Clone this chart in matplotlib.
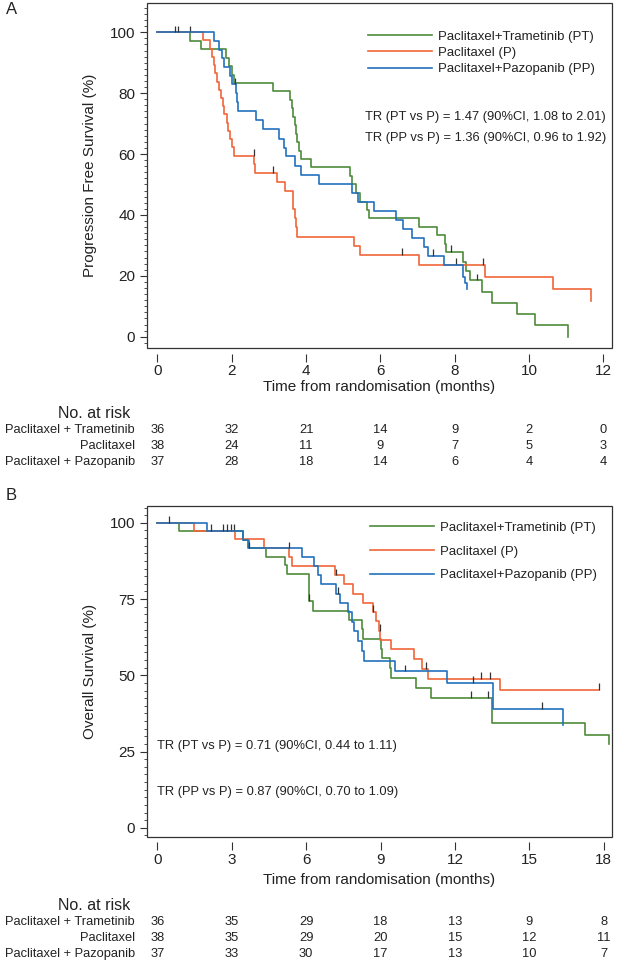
import numpy as np
import matplotlib
matplotlib.use('Agg')
import matplotlib.pyplot as plt
from matplotlib.ticker import MultipleLocator
from matplotlib.patches import Rectangle
from matplotlib.transforms import blended_transform_factory

plt.rcParams['font.family'] = ['Liberation Sans', 'DejaVu Sans']

arms = ['Paclitaxel+Trametinib (PT)', 'Paclitaxel (P)', 'Paclitaxel+Pazopanib (PP)']
risk_names = ['Paclitaxel + Trametinib', 'Paclitaxel', 'Paclitaxel + Pazopanib']
colors = ['#4f8b3b', '#f0663a', '#2272bd']

# ---- Panel A: progression free survival (step points: time, % surviving after the step)
pfs_pt_t = [0, 0.89, 1.16, 1.85, 1.92, 2.02, 2.06, 3.10, 3.58, 3.62, 3.66, 3.70, 3.73, 3.76, 3.80, 3.85,
            4.14, 5.19, 5.23, 5.35, 5.46, 5.64, 5.68, 7.04, 7.51, 7.74, 7.77, 8.22, 8.30, 8.40, 8.73,
            9.00, 9.67, 10.16, 11.04]
pfs_pt_v = [100, 97.2, 94.4, 91.7, 88.9, 86.1, 83.3, 80.6, 77.8, 75.0, 72.2, 69.4, 66.7, 63.9, 61.1, 58.3,
            55.6, 52.8, 50.0, 47.2, 44.4, 41.7, 38.9, 36.1, 33.3, 30.6, 27.8, 24.7, 21.6, 18.5, 14.8,
            11.1, 7.4, 3.7, 0.0]
pfs_p_t = [0, 1.23, 1.42, 1.46, 1.52, 1.56, 1.60, 1.66, 1.70, 1.76, 1.80, 1.86, 1.90, 1.95, 2.00, 2.05,
           2.61, 2.63, 3.22, 3.44, 3.64, 3.66, 3.69, 3.72, 3.76, 5.28, 5.44, 7.05, 8.82, 10.65, 11.66]
pfs_p_v = [100, 97.3, 94.6, 91.9, 89.2, 86.5, 83.8, 81.1, 78.4, 75.7, 73.0, 70.3, 67.6, 64.9, 62.2, 59.5,
           56.7, 53.9, 50.9, 47.9, 44.9, 41.9, 38.9, 35.9, 32.9, 29.9, 26.9, 23.6, 19.7, 15.7, 11.8]
pfs_pp_t = [0, 1.51, 1.65, 1.75, 1.80, 1.94, 2.00, 2.12, 2.14, 2.16, 2.66, 2.84, 3.26, 3.40, 3.45, 3.71,
            3.86, 4.34, 5.24, 5.41, 5.82, 6.42, 6.62, 6.85, 7.16, 7.28, 7.72, 8.22, 8.27, 8.34]
pfs_pp_v = [100, 97.1, 94.3, 91.4, 88.6, 85.7, 82.9, 80.0, 77.0, 74.1, 71.1, 68.1, 65.1, 62.1, 59.2, 56.2,
            53.2, 50.2, 47.2, 44.3, 41.3, 38.3, 35.3, 32.3, 29.4, 26.6, 23.4, 19.7, 17.7, 15.7]
pfs_cens = [[7.91, 8.60], [0.87, 2.59, 3.11, 6.59, 8.04, 8.77], [0.46, 0.55, 2.10, 7.42]]
pfs_tr = ['TR (PT vs P) = 1.47 (90%CI, 1.08 to 2.01)', 'TR (PP vs P) = 1.36 (90%CI, 0.96 to 1.92)']
pfs_risk_t = [0, 2, 4, 6, 8, 10, 12]
pfs_risk = [[36, 32, 21, 14, 9, 2, 0], [38, 24, 11, 9, 7, 5, 3], [37, 28, 18, 14, 6, 4, 4]]

# ---- Panel B: overall survival
os_pt_t = [0, 0.87, 3.46, 3.70, 4.36, 5.14, 5.23, 6.12, 6.26, 7.73, 8.26, 8.30, 9.00, 9.05, 9.38, 9.42,
           10.43, 11.04, 13.51, 17.26, 18.20]
os_pt_v = [100, 97.2, 94.4, 91.7, 88.9, 86.1, 83.3, 74.3, 71.2, 68.1, 65.1, 61.9, 58.7, 55.5, 52.4, 49.1,
           45.8, 42.5, 34.2, 30.5, 27.5]
os_p_t = [0, 1.48, 3.12, 4.29, 5.30, 5.41, 7.16, 7.51, 7.89, 8.30, 8.71, 8.80, 8.93, 8.97, 9.41, 10.36,
          10.66, 10.91, 13.82, 17.80]
os_p_v = [100, 97.4, 94.6, 91.7, 88.8, 85.8, 82.8, 79.8, 76.8, 73.8, 70.8, 67.8, 64.6, 61.5, 58.5, 55.2,
          52.0, 48.9, 45.1, 45.1]
os_pp_t = [0, 1.98, 3.46, 3.66, 5.81, 6.32, 6.48, 6.58, 7.22, 7.35, 7.69, 7.85, 7.92, 8.07, 8.25, 8.32,
           9.60, 11.68, 13.55, 16.37]
os_pp_v = [100, 97.3, 94.5, 91.6, 88.7, 85.8, 82.8, 79.8, 76.8, 73.8, 70.7, 67.6, 64.4, 61.2, 58.0, 54.7,
           51.3, 47.4, 38.9, 33.8]
os_cens = [[6.12, 12.64, 13.32], [2.95, 3.10, 7.20, 8.71, 8.96, 10.84, 13.04, 13.41, 17.80],
           [0.46, 2.16, 2.65, 2.79, 3.69, 5.31, 7.27, 9.98, 12.74, 15.52]]
os_tr = ['TR (PT vs P) = 0.71 (90%CI, 0.44 to 1.11)', 'TR (PP vs P) = 0.87 (90%CI, 0.70 to 1.09)']
os_risk_t = [0, 3, 6, 9, 12, 15, 18]
os_risk = [[36, 35, 29, 18, 13, 9, 8], [38, 35, 29, 20, 15, 12, 11], [37, 33, 30, 17, 13, 10, 7]]

W, H = 617, 961
fig = plt.figure(figsize=(W / 100, H / 100), dpi=100)


def box(l, t, r, b):
    return [l / W, 1 - b / H, (r - l) / W, (b - t) / H]


def panel(ax, curves, cens, xlim, ylim, xmaj, ymaj, ymin, ylabel):
    for (t, v), cs, c, name in zip(curves, cens, colors, arms):
        ax.step(t, v, where='post', color=c, lw=1.2, label=name)
        t = np.array(t)
        lv = np.array(v)[np.searchsorted(t, cs, side='right') - 1]
        ax.vlines(cs, lv, lv + 2.2, color='#333333', lw=0.9)
    ax.set_xlim(*xlim)
    ax.set_ylim(*ylim)
    ax.xaxis.set_major_locator(MultipleLocator(xmaj))
    ax.yaxis.set_minor_locator(MultipleLocator(ymin))
    ax.set_yticks(np.arange(0, 101, ymaj))
    for s in ax.spines.values():
        s.set_visible(False)
    ax.spines['bottom'].set_position(('outward', 4))
    ax.add_patch(Rectangle((0, 0), 1, 1, transform=ax.transAxes, fill=False,
                           ec='#333333', lw=0.9, clip_on=False))
    ax.tick_params(axis='both', which='major', direction='out', length=5, width=0.8,
                   color='#333333', labelsize=11, labelcolor='#222222')
    ax.tick_params(axis='x', length=6, pad=1.5)
    ax.tick_params(axis='y', which='minor', direction='out', length=2.5, width=0.6, color='#333333')
    ax.set_ylabel(ylabel, fontsize=11, color='#222222')
    ax.yaxis.set_label_coords(-0.108, 0.5)


axA = fig.add_axes(box(147, 3, 612, 348))
panel(axA, [(pfs_pt_t, pfs_pt_v), (pfs_p_t, pfs_p_v), (pfs_pp_t, pfs_pp_v)], pfs_cens,
      (-0.28, 12.23), (-3.7, 109.6), 2, 20, 2, 'Progression Free Survival (%)')
axA.legend(loc='upper left', bbox_to_anchor=(0.475, 0.92), frameon=False, fontsize=9.5,
           handlelength=4.85, handletextpad=0.5, labelspacing=0.3, borderpad=0, borderaxespad=0,
           labelcolor='#222222')
for i, s in enumerate(pfs_tr):
    axA.text(0.469, 0.670 - i * 0.061, s, transform=axA.transAxes, fontsize=9.3, va='center',
             color='#222222')

axB = fig.add_axes(box(147, 506, 612, 836.6))
panel(axB, [(os_pt_t, os_pt_v), (os_p_t, os_p_v), (os_pp_t, os_pp_v)], os_cens,
      (-0.42, 18.33), (-2.9, 105.5), 3, 25, 2.5, 'Overall Survival (%)')
axB.legend(loc='upper left', bbox_to_anchor=(0.479, 0.952), frameon=False, fontsize=9.5,
           handlelength=4.85, handletextpad=0.5, labelspacing=0.86, borderpad=0, borderaxespad=0,
           labelcolor='#222222')
for i, s in enumerate(os_tr):
    axB.text(0.021, 0.275 - i * 0.139, s, transform=axB.transAxes, fontsize=9.3, va='center',
             color='#222222')

# x labels and number-at-risk tables
for ax, rt, rk, ylab, yno, yrows in [(axA, pfs_risk_t, pfs_risk, 387, 413, [430, 446, 462]),
                                     (axB, os_risk_t, os_risk, 880, 906, [922, 938, 954])]:
    fig.text(379.5 / W, 1 - ylab / H, 'Time from randomisation (months)', ha='center', va='center',
             fontsize=11, color='#222222')
    fig.text(130 / W, 1 - yno / H, 'No. at risk', ha='right', va='center', fontsize=11.5, color='#222222')
    tr = blended_transform_factory(ax.transData, fig.transFigure)
    for name, counts, yr in zip(risk_names, rk, yrows):
        fig.text(135 / W, 1 - yr / H, name, ha='right', va='center', fontsize=9.3, color='#222222')
        for x, n in zip(rt, counts):
            ax.text(x, 1 - yr / H, str(n), transform=tr, ha='center', va='center', fontsize=9.3,
                    color='#222222')

fig.text(6 / W, 1 - 10 / H, 'A', fontsize=12, va='center', color='#222222')
fig.text(6 / W, 1 - 495 / H, 'B', fontsize=12, va='center', color='#222222')

fig.savefig('out.png', dpi=100)
